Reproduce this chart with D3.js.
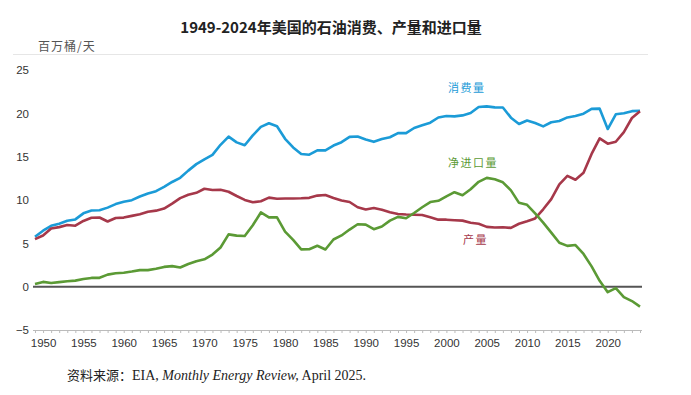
<!DOCTYPE html>
<html>
<head>
<meta charset="utf-8">
<script src="https://cdn.jsdelivr.net/npm/d3@7"></script>
<style>
	body { margin: 0; background: #fff; }
	svg { display: block; }
	.tick text { font-family: "Liberation Sans Narrow", "Arial Narrow", "Liberation Sans", sans-serif; font-size: 11.5px; fill: #333; }
	.serif { font-family: "Liberation Serif", "Noto Sans CJK SC", serif; }
</style>
</head>
<body>
<svg id="chart" width="691" height="395"></svg>
<script>
// years 1949..2024, million barrels per day
var years = d3.range(1949, 2025);

var consumption = [
	5.76, 6.46, 7.02, 7.27, 7.60, 7.76, 8.46, 8.78, 8.81, 9.12,
	9.53, 9.80, 9.98, 10.40, 10.74, 11.02, 11.51, 12.08, 12.56, 13.39,
	14.14, 14.70, 15.21, 16.37, 17.31, 16.65, 16.32, 17.46, 18.43, 18.85,
	18.51, 17.06, 16.06, 15.30, 15.23, 15.73, 15.73, 16.28, 16.67, 17.28,
	17.33, 16.99, 16.71, 17.03, 17.24, 17.72, 17.72, 18.31, 18.62, 18.92,
	19.52, 19.70, 19.65, 19.76, 20.03, 20.73, 20.80, 20.69, 20.68, 19.50,
	18.77, 19.18, 18.88, 18.49, 18.97, 19.11, 19.53, 19.69, 19.96, 20.51,
	20.54, 18.19, 19.89, 20.01, 20.25, 20.30
];

var production = [
	5.48, 5.91, 6.72, 6.87, 7.11, 7.03, 7.58, 7.95, 7.98, 7.52,
	7.93, 7.97, 8.17, 8.35, 8.64, 8.77, 9.01, 9.58, 10.22, 10.60,
	10.83, 11.30, 11.16, 11.19, 10.95, 10.46, 10.01, 9.74, 9.86, 10.27,
	10.14, 10.17, 10.18, 10.20, 10.25, 10.51, 10.58, 10.23, 9.94, 9.77,
	9.16, 8.91, 9.08, 8.87, 8.59, 8.39, 8.32, 8.30, 8.27, 8.01,
	7.73, 7.73, 7.67, 7.62, 7.37, 7.25, 6.90, 6.83, 6.86, 6.78,
	7.26, 7.55, 7.87, 8.93, 10.10, 11.81, 12.78, 12.34, 13.14, 15.32,
	17.11, 16.50, 16.72, 17.83, 19.46, 20.23
];

var netImports = [
	0.32, 0.55, 0.42, 0.52, 0.63, 0.70, 0.88, 1.01, 1.02, 1.39,
	1.55, 1.61, 1.74, 1.91, 1.91, 2.06, 2.28, 2.37, 2.21, 2.61,
	2.93, 3.16, 3.70, 4.52, 6.03, 5.89, 5.85, 7.09, 8.56, 8.00,
	7.99, 6.36, 5.40, 4.30, 4.31, 4.72, 4.29, 5.44, 5.91, 6.59,
	7.20, 7.16, 6.63, 6.94, 7.62, 8.05, 7.89, 8.50, 9.16, 9.76,
	9.91, 10.42, 10.90, 10.55, 11.24, 12.10, 12.55, 12.39, 12.04, 11.11,
	9.67, 9.44, 8.45, 7.39, 6.24, 5.07, 4.71, 4.80, 3.77, 2.34,
	0.67, -0.64, -0.16, -1.20, -1.66, -2.30
];

var yTicks = [-5, 0, 5, 10, 15, 20, 25];
var xLabelYears = d3.range(1950, 2021, 5);

var series = [
	{ name: '消费量', values: consumption, color: '#1b9bd7', label: [448, 92] },
	{ name: '产量', values: production, color: '#a6384a', label: [463, 244] },
	{ name: '净进口量', values: netImports, color: '#5b9a35', label: [448, 167] }
];

var svg = d3.select('#chart');

var x = d3.scaleLinear().domain([1949, 2024]).range([35, 640]);
var y = d3.scaleLinear().domain([-5, 25]).range([330, 70]);

// title
svg.append('text')
	.attr('x', 331)
	.attr('y', 33)
	.attr('text-anchor', 'middle')
	.style('font-family', '"Noto Sans CJK SC", "Noto Sans", sans-serif')
	.style('font-size', '15px')
	.style('font-weight', 'bold')
	.style('fill', '#222')
	.text('1949-2024年美国的石油消费、产量和进口量');

svg.append('line')
	.attr('x1', 13).attr('x2', 648)
	.attr('y1', 54.5).attr('y2', 54.5)
	.attr('stroke', '#e6e6e6');

svg.append('text')
	.attr('x', 38)
	.attr('y', 51)
	.style('font-family', '"Noto Sans CJK SC", sans-serif')
	.style('font-size', '12px')
	.style('fill', '#555')
	.style('letter-spacing', '1px')
	.text('百万桶/天');

// y axis labels only
var yAxis = svg.append('g')
	.attr('transform', 'translate(29,0)')
	.call(d3.axisLeft(y).tickValues(yTicks).tickSize(0).tickPadding(0));
yAxis.select('.domain').remove();

// x axis at the bottom with a tick per year
var xAxis = svg.append('g')
	.attr('transform', 'translate(0,' + y(-5) + ')')
	.call(d3.axisBottom(x)
		.tickValues(years)
		.tickSize(3)
		.tickPadding(6)
		.tickFormat(function (d) {
			return xLabelYears.indexOf(d) >= 0 ? d : '';
		}));
xAxis.select('.domain').attr('stroke', '#bbb').attr('d', 'M33,0.5H642');
xAxis.selectAll('.tick line').attr('stroke', '#bbb');

// zero line
svg.append('line')
	.attr('x1', 33).attr('x2', 642)
	.attr('y1', y(0)).attr('y2', y(0))
	.attr('stroke', '#555')
	.attr('stroke-width', 2);

var line = d3.line()
	.x(function (d, i) { return x(years[i]); })
	.y(function (d) { return y(d); });

svg.selectAll('.series')
	.data(series)
	.enter()
	.append('path')
	.attr('class', 'series')
	.attr('fill', 'none')
	.attr('stroke', function (d) { return d.color; })
	.attr('stroke-width', 2.6)
	.attr('stroke-linejoin', 'round')
	.attr('d', function (d) { return line(d.values); });

svg.selectAll('.label')
	.data(series)
	.enter()
	.append('text')
	.attr('class', 'label')
	.attr('x', function (d) { return d.label[0]; })
	.attr('y', function (d) { return d.label[1]; })
	.style('font-family', '"Noto Sans CJK SC", sans-serif')
	.style('font-size', '11px')
	.style('letter-spacing', '1.5px')
	.style('fill', function (d) { return d.color; })
	.text(function (d) { return d.name; });

// source note
var src = svg.append('text')
	.attr('class', 'serif')
	.attr('x', 67)
	.attr('y', 380)
	.style('font-size', '14px')
	.style('fill', '#222');
src.append('tspan').style('font-family', '"Noto Sans CJK SC", serif').style('font-size', '13px').text('资料来源：');
src.append('tspan').text('EIA, ');
src.append('tspan').style('font-style', 'italic').text('Monthly Energy Review,');
src.append('tspan').text(' April 2025.');
</script>
</body>
</html>
